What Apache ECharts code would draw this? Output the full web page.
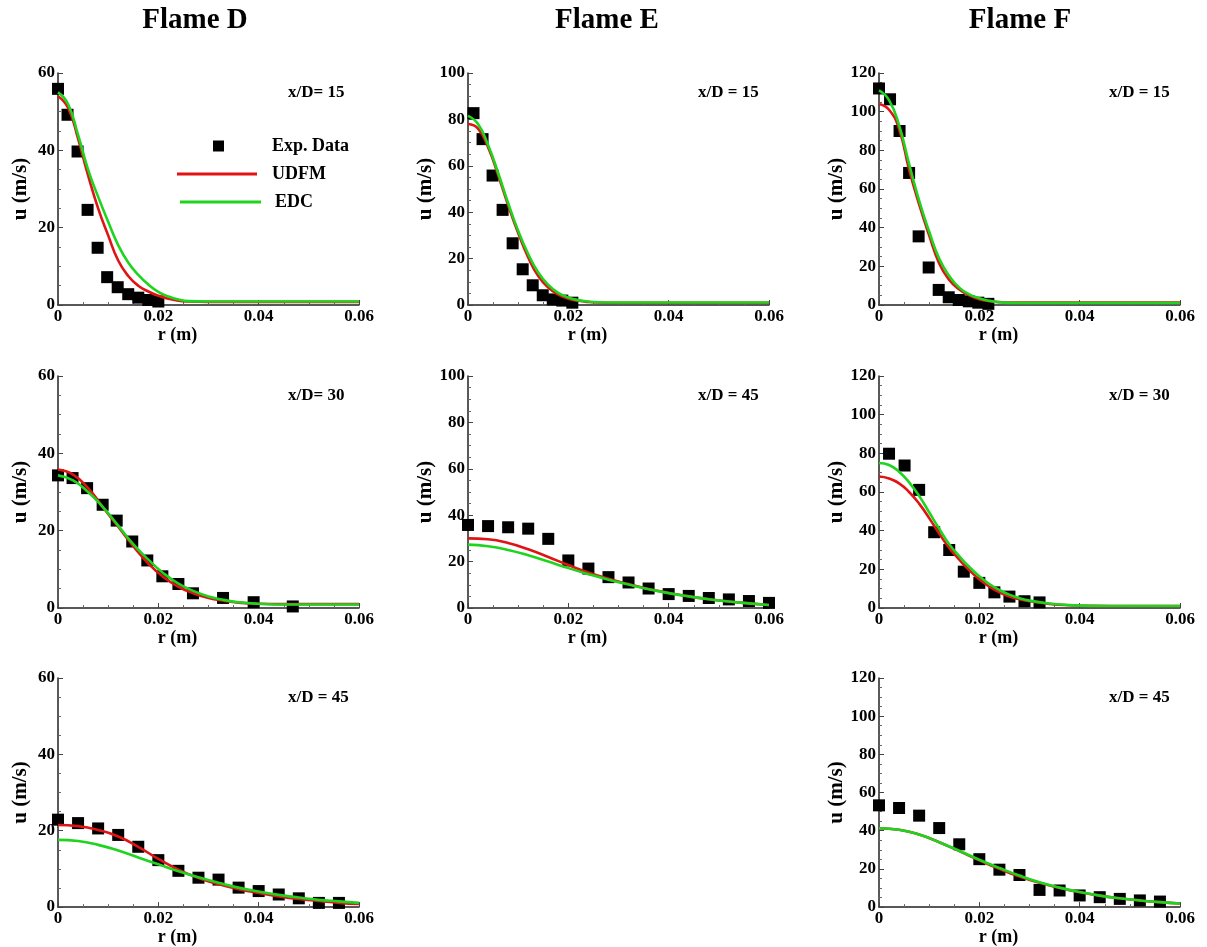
<!DOCTYPE html>
<html>
<head>
<meta charset="utf-8">
<script src="https://cdn.jsdelivr.net/npm/echarts@6/dist/echarts.min.js"></script>
<style>
html,body{margin:0;padding:0;background:#fff;}
#chart{width:1207px;height:947px;}
</style>
</head>
<body>
<div id="chart"></div>
<script>
// ---------------- DATA ----------------
const xTickLabels = ['0', '0.02', '0.04', '0.06'];

// Flame D, x/D = 15
const r_D15_exp = [0, 0.0019, 0.0039, 0.0059, 0.0079, 0.0098, 0.0119, 0.014, 0.016, 0.018, 0.020];
const u_D15_exp = [55.9, 49.2, 39.7, 24.6, 14.8, 7.2, 4.6, 2.8, 1.9, 1.3, 0.9];
const r_D15 = [0, 0.002, 0.004, 0.006, 0.008, 0.010, 0.012, 0.014, 0.016, 0.018, 0.020, 0.022, 0.024, 0.026, 0.030, 0.040, 0.050, 0.060];
const u_D15_UDFM = [54, 51, 43, 33.5, 25, 18, 11.5, 7.5, 5.0, 3.5, 2.4, 1.6, 1.1, 0.9, 0.8, 0.8, 0.8, 0.8];
const u_D15_EDC  = [55, 52, 44, 35, 28, 21.5, 15.5, 11, 7.8, 5.3, 3.4, 2.2, 1.4, 1.0, 0.9, 0.9, 0.9, 0.9];

// Flame E, x/D = 15
const r_E15_exp = [0.0011, 0.0029, 0.0049, 0.0069, 0.0089, 0.0109, 0.0129, 0.0149, 0.0169, 0.0188, 0.0208];
const u_E15_exp = [82.7, 71.5, 55.8, 41, 26.6, 15.4, 8.5, 4.2, 2.4, 1.9, 1.0];
const r_E15 = [0, 0.002, 0.004, 0.006, 0.008, 0.010, 0.012, 0.014, 0.016, 0.018, 0.020, 0.022, 0.024, 0.026, 0.030, 0.040, 0.050, 0.060];
const u_E15_UDFM = [78, 76, 68, 56, 43, 31, 20.5, 12.5, 7.5, 4.5, 2.7, 1.8, 1.3, 1.1, 1.0, 1.0, 1.0, 1.0];
const u_E15_EDC  = [81.5, 78, 69, 57, 44, 32, 22, 14, 8.7, 5.2, 3.2, 2.1, 1.5, 1.2, 1.1, 1.1, 1.1, 1.1];

// Flame F, x/D = 15
const r_F15_exp = [0, 0.0022, 0.0041, 0.006, 0.0079, 0.0099, 0.0119, 0.0139, 0.0159, 0.0179, 0.0198, 0.0218];
const u_F15_exp = [112, 106.4, 90, 68.3, 35.5, 19.4, 7.8, 4, 2.6, 1.9, 1.2, 0.6];
const r_F15 = [0, 0.002, 0.004, 0.006, 0.008, 0.010, 0.012, 0.014, 0.016, 0.018, 0.020, 0.022, 0.024, 0.026, 0.030, 0.040, 0.050, 0.060];
const u_F15_UDFM = [104, 101, 91, 70, 52, 36, 21.5, 13, 8, 5, 3, 2, 1.5, 1.3, 1.3, 1.3, 1.3, 1.3];
const u_F15_EDC  = [111, 106, 93, 73, 54, 38, 24, 15, 9, 5.5, 3.5, 2.2, 1.4, 1.1, 1.0, 1.0, 1.0, 1.0];

// Flame D, x/D = 30
const r_D30_exp = [0, 0.0029, 0.0058, 0.0089, 0.0117, 0.0148, 0.0178, 0.0208, 0.024, 0.0269, 0.0329, 0.039, 0.0468];
const u_D30_exp = [34.3, 33.6, 31, 26.7, 22.6, 17.2, 12.3, 8.2, 6.2, 3.8, 2.6, 1.5, 0.4];
const r_D30 = [0, 0.003, 0.006, 0.009, 0.012, 0.015, 0.018, 0.021, 0.024, 0.027, 0.030, 0.033, 0.036, 0.040, 0.045, 0.050, 0.060];
const u_D30_UDFM = [35.8, 34.5, 31, 26, 21, 16, 11.5, 8, 5.5, 3.8, 2.6, 1.9, 1.4, 1.1, 1.0, 1.0, 1.0];
const u_D30_EDC  = [34.3, 33, 30, 26, 21.3, 16.5, 12.5, 9, 6.3, 4.4, 3.0, 2.1, 1.5, 1.1, 0.9, 0.9, 0.9];

// Flame E, x/D = 45
const r_E45_exp = [0, 0.004, 0.008, 0.012, 0.016, 0.020, 0.024, 0.028, 0.032, 0.036, 0.040, 0.044, 0.048, 0.052, 0.056, 0.060];
const u_E45_exp = [35.8, 35.3, 34.8, 34.2, 29.8, 20.5, 17, 13.3, 11, 8.4, 6, 5.2, 4.3, 3.7, 3, 2.2];
const r_E45 = [0, 0.004, 0.008, 0.012, 0.016, 0.020, 0.024, 0.028, 0.032, 0.036, 0.040, 0.044, 0.048, 0.052, 0.056, 0.060];
const u_E45_UDFM = [30, 29.6, 28, 25.3, 22, 18.5, 15.3, 12.6, 10.3, 8.2, 6.5, 5, 3.8, 2.8, 2, 1.3];
const u_E45_EDC  = [27.3, 26.6, 25, 22.7, 20, 17.2, 14.6, 12.2, 10.1, 8.1, 6.4, 5, 3.8, 2.8, 2, 1.3];

// Flame F, x/D = 30
const r_F30_exp = [0.002, 0.0051, 0.008, 0.011, 0.014, 0.0169, 0.020, 0.023, 0.026, 0.029, 0.032];
const u_F30_exp = [79.8, 73.7, 61.1, 39.2, 30, 18.8, 13, 8.1, 5.9, 3.5, 2.9];
const r_F30 = [0, 0.002, 0.004, 0.006, 0.008, 0.010, 0.012, 0.014, 0.016, 0.018, 0.020, 0.022, 0.024, 0.026, 0.028, 0.030, 0.034, 0.038, 0.042, 0.050, 0.060];
const u_F30_UDFM = [68, 67, 64.5, 60, 54, 46.5, 38.5, 31, 25, 19.5, 14.8, 11, 8.1, 6, 4.5, 3.5, 2.1, 1.4, 1.1, 1.0, 1.0];
const u_F30_EDC  = [75, 74, 70.5, 65, 58, 49.5, 41, 33, 26.8, 21.2, 16.4, 12.4, 9.3, 6.9, 5.1, 3.8, 2.3, 1.5, 1.1, 1.0, 1.0];

// Flame D, x/D = 45
const r_D45_exp = [0, 0.004, 0.008, 0.012, 0.016, 0.020, 0.024, 0.028, 0.032, 0.036, 0.040, 0.044, 0.048, 0.052, 0.056];
const u_D45_exp = [22.9, 22, 20.6, 18.9, 15.8, 12.3, 9.5, 7.7, 7.2, 5.1, 4.2, 3.3, 2.3, 1.1, 1.1];
const r_D45 = [0, 0.004, 0.008, 0.012, 0.016, 0.020, 0.024, 0.028, 0.032, 0.036, 0.040, 0.044, 0.048, 0.052, 0.056, 0.060];
const u_D45_UDFM = [21.5, 21.2, 20.2, 18.5, 15.8, 12.6, 9.8, 7.6, 6, 4.7, 3.7, 2.8, 2.1, 1.6, 1.1, 0.8];
const u_D45_EDC  = [17.6, 17.3, 16.3, 14.8, 13, 11.2, 9.4, 7.8, 6.4, 5.1, 4.1, 3.2, 2.5, 1.9, 1.5, 1.1];

// Flame F, x/D = 45
const r_F45_exp = [0, 0.004, 0.008, 0.012, 0.016, 0.020, 0.024, 0.028, 0.032, 0.036, 0.040, 0.044, 0.048, 0.052, 0.056];
const u_F45_exp = [53.3, 51.9, 47.9, 41.4, 32.9, 25.1, 19.6, 16.8, 9, 8.7, 6.1, 5.2, 4.3, 3.5, 2.9];
const r_F45 = [0, 0.004, 0.008, 0.012, 0.016, 0.020, 0.024, 0.028, 0.032, 0.036, 0.040, 0.044, 0.048, 0.052, 0.056, 0.060];
const u_F45_UDFM = [41.3, 40.5, 38, 34, 29.3, 24.5, 20, 16, 12.7, 10, 7.8, 6, 4.6, 3.5, 2.6, 1.9];
const u_F45_EDC  = [41.3, 40.5, 38, 34, 29.5, 24.8, 20.5, 16.5, 13, 10.2, 7.9, 6, 4.6, 3.5, 2.6, 1.9];

const columnTitles = ['Flame D', 'Flame E', 'Flame F'];
const seriesNames = ['Exp. Data', 'UDFM', 'EDC'];

// -------------- LAYOUT -----------------
const colLeft = [58, 468, 879];
const rowTop = [73, 376, 678];
const gridW = 301, gridH = 232;
const FONT = '"Liberation Serif", "Times New Roman", serif';
const RED = '#e01414', GREEN = '#1fd41f';

const panels = [
  { col: 0, row: 0, ymax: 60,  label: 'x/D= 15',  exp: [r_D15_exp, u_D15_exp], r: r_D15, udfm: u_D15_UDFM, edc: u_D15_EDC },
  { col: 1, row: 0, ymax: 100, label: 'x/D = 15', exp: [r_E15_exp, u_E15_exp], r: r_E15, udfm: u_E15_UDFM, edc: u_E15_EDC },
  { col: 2, row: 0, ymax: 120, label: 'x/D = 15', exp: [r_F15_exp, u_F15_exp], r: r_F15, udfm: u_F15_UDFM, edc: u_F15_EDC },
  { col: 0, row: 1, ymax: 60,  label: 'x/D= 30',  exp: [r_D30_exp, u_D30_exp], r: r_D30, udfm: u_D30_UDFM, edc: u_D30_EDC },
  { col: 1, row: 1, ymax: 100, label: 'x/D = 45', exp: [r_E45_exp, u_E45_exp], r: r_E45, udfm: u_E45_UDFM, edc: u_E45_EDC },
  { col: 2, row: 1, ymax: 120, label: 'x/D = 30', exp: [r_F30_exp, u_F30_exp], r: r_F30, udfm: u_F30_UDFM, edc: u_F30_EDC },
  { col: 0, row: 2, ymax: 60,  label: 'x/D = 45', exp: [r_D45_exp, u_D45_exp], r: r_D45, udfm: u_D45_UDFM, edc: u_D45_EDC },
  { col: 2, row: 2, ymax: 120, label: 'x/D = 45', exp: [r_F45_exp, u_F45_exp], r: r_F45, udfm: u_F45_UDFM, edc: u_F45_EDC }
];

const zip = (a, b) => a.map((v, i) => [v, b[i]]);

const grids = [], xAxes = [], yAxes = [], series = [], graphics = [];
const axisLineStyle = { color: '#222', width: 1.5 };

panels.forEach((p, i) => {
  grids.push({ left: colLeft[p.col], top: rowTop[p.row], width: gridW, height: gridH, containLabel: false });
  xAxes.push({
    gridIndex: i, type: 'value', min: 0, max: 0.06, interval: 0.02,
    name: 'r (m)', nameLocation: 'middle', nameGap: 15,
    nameTextStyle: { fontFamily: FONT, fontWeight: 'bold', fontSize: 18, color: '#000', padding: [0, 62, 0, 0] },
    axisLine: { show: true, onZero: false, lineStyle: axisLineStyle },
    axisTick: { show: true, inside: true, length: 5, lineStyle: { color: '#444', width: 1 } },
    minorTick: { show: true, splitNumber: 4, length: 3, lineStyle: { color: '#666', width: 1 } },
    splitLine: { show: false },
    axisLabel: {
      margin: 3, fontFamily: FONT, fontWeight: 'bold', fontSize: 17, color: '#000',
      formatter: v => xTickLabels[Math.round(v / 0.02)]
    }
  });
  yAxes.push({
    gridIndex: i, type: 'value', min: 0, max: p.ymax, interval: 20,
    name: 'u (m/s)', nameLocation: 'middle', nameGap: 27, nameRotate: 90,
    nameTextStyle: { fontFamily: FONT, fontWeight: 'bold', fontSize: 21, color: '#000' },
    axisLine: { show: true, onZero: false, lineStyle: axisLineStyle },
    axisTick: { show: true, inside: true, length: 5, lineStyle: { color: '#444', width: 1 } },
    minorTick: { show: true, splitNumber: 4, length: 3, lineStyle: { color: '#666', width: 1 } },
    splitLine: { show: false },
    axisLabel: { margin: 3, fontFamily: FONT, fontWeight: 'bold', fontSize: 17, color: '#000' }
  });
  series.push({
    name: seriesNames[0], type: 'scatter', xAxisIndex: i, yAxisIndex: i,
    symbol: 'rect', symbolSize: 12, itemStyle: { color: '#000', opacity: 1 },
    data: zip(p.exp[0], p.exp[1]), z: 2
  });
  series.push({
    name: seriesNames[1], type: 'line', xAxisIndex: i, yAxisIndex: i,
    smooth: 0.5, showSymbol: false, symbol: 'none',
    lineStyle: { color: RED, width: 2.6 }, itemStyle: { color: RED },
    data: zip(p.r, p.udfm), z: 3
  });
  series.push({
    name: seriesNames[2], type: 'line', xAxisIndex: i, yAxisIndex: i,
    smooth: 0.5, showSymbol: false, symbol: 'none',
    lineStyle: { color: GREEN, width: 2.6 }, itemStyle: { color: GREEN },
    data: zip(p.r, p.edc), z: 4
  });
  graphics.push({
    type: 'text', left: colLeft[p.col] + 230, top: rowTop[p.row] + 11,
    style: { text: p.label, font: 'bold 17px ' + FONT, fill: '#000' }
  });
});

const titleCenters = [195, 607, 1020];
columnTitles.forEach((t, i) => {
  graphics.push({
    type: 'text', x: titleCenters[i], y: 21,
    style: { text: t, font: 'bold 29px ' + FONT, fill: '#000', align: 'center', verticalAlign: 'middle', textAlign: 'center', textVerticalAlign: 'middle' }
  });
});

const legendText = { fontFamily: FONT, fontWeight: 'bold', fontSize: 18, color: '#000' };
const option = {
  backgroundColor: '#fff',
  animation: false,
  grid: grids,
  xAxis: xAxes,
  yAxis: yAxes,
  series: series,
  legend: [
    { data: [{ name: seriesNames[0], icon: 'rect' }], left: 213, top: 137, padding: 0, itemWidth: 11, itemHeight: 11,
      textStyle: Object.assign({ padding: [0, 0, 0, 43] }, legendText), selectedMode: false },
    { data: [{ name: seriesNames[1], icon: 'rect' }], left: 177, top: 165, padding: 0, itemWidth: 80, itemHeight: 3,
      textStyle: Object.assign({ padding: [0, 0, 0, 10] }, legendText), selectedMode: false },
    { data: [{ name: seriesNames[2], icon: 'rect' }], left: 180, top: 193, padding: 0, itemWidth: 81, itemHeight: 3,
      textStyle: Object.assign({ padding: [0, 0, 0, 9] }, legendText), selectedMode: false }
  ],
  graphic: graphics
};

const chart = echarts.init(document.getElementById('chart'), null, { renderer: 'canvas' });
chart.setOption(option);
</script>
</body>
</html>
